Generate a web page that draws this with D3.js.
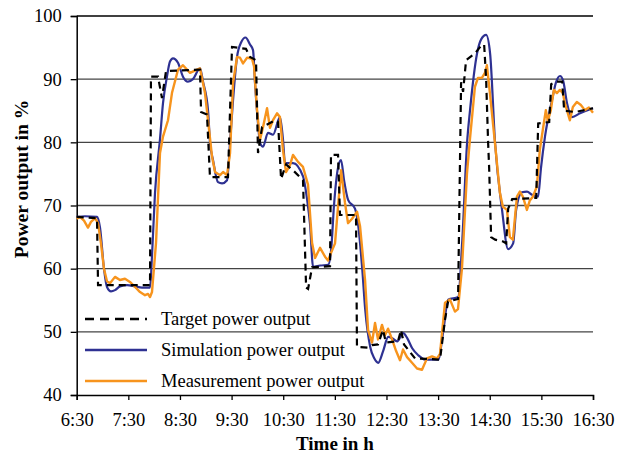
<!DOCTYPE html>
<html>
<head>
<meta charset="utf-8">
<script src="https://cdn.jsdelivr.net/npm/d3@7"></script>
<style>
  html, body { margin: 0; padding: 0; background: #fff; }
  svg text { font-family: "Liberation Serif", "Times New Roman", serif; fill: #000; }
</style>
</head>
<body>
<svg id="chart" width="627" height="455"></svg>
<script>
// Minutes elapsed since 6:30
const xTickLabels = ["6:30","7:30","8:30","9:30","10:30","11:30","12:30","13:30","14:30","15:30","16:30"];
const yTickValues = [40, 50, 60, 70, 80, 90, 100];
const seriesNames = ["Target power output", "Simulation power output", "Measurement power output"];

const targetTime = [0,23.6,24.8,85.2,86.3,94.5,99.1,103.8,143.3,144.5,151.4,154.9,175.8,180.5,196.7,201.4,208.4,210.7,215.4,230.5,234,237.5,243.3,252,263,266.6,268.9,273.5,294.4,295.5,303.7,306,324.6,325.7,338.5,343.2,350.1,355.9,359.4,373.4,376.9,380.4,387.4,393.2,422.2,428.1,431.6,443.2,446.7,449,452.5,463,470,473.5,475.8,478.1,479.3,481.6,486.3,495.6,499.1,501.4,506.1,534,536.3,549.1,551.4,557.2,564.2,566.5,579.3,600];
const targetValue = [68.2,68.0,57.4,57.4,90.4,90.4,87,91.3,91.5,84.8,84.4,74.5,74.5,95.1,94.8,93.5,93.0,78.3,82.4,83.5,83.2,74.2,76.5,75.5,74.0,57.0,56.8,60.2,60.4,78.0,78.0,68.5,68.5,47.6,47.5,47.9,48.0,50.3,48.3,48.5,50.3,48.0,46.8,45.8,45.6,52.0,54.8,55.2,89.5,88,93.0,94.1,95.3,95.5,90,80,76,65,64.6,64.3,64.0,69.5,71.0,71.2,83.0,83.2,89.2,89.6,89.6,85.0,84.8,85.4];

const simTime = [0,9.6,23.6,27.1,31.7,35.2,39.9,44.5,50.3,58.5,67.8,75.9,85.2,87.5,91,96.8,100.3,104.9,108.4,111.9,117.7,123.5,129.3,135.1,143.3,146.8,152.6,154.9,158.4,164.2,168.9,174.7,178.2,181.7,186.3,191,196.2,201.4,204.9,207.2,210.7,213,216.5,222.3,228.1,236.2,239.7,242.1,251.4,263,267.7,271.2,274.7,282.9,292.2,295.7,299,303.7,307.2,310.7,315.4,323.4,327,331.8,335.3,341.1,345.8,350.4,356.2,362,366.6,372.4,379.4,384.1,389.9,396.9,405,420.1,425.9,431.7,443.3,447.9,453.7,457.1,465.3,470,475.8,480.4,486.2,494.3,501.3,507.2,510.7,517.4,523.3,529.1,536.1,539.6,544.2,552.4,557,561.7,565.2,569.8,575.6,584.9,600];
const simValue = [68.2,68.3,68.2,66.5,60,57.1,56.4,56.6,57.2,57.4,57.2,57.0,57,62,72,80.5,86.2,90.4,92.8,93.3,92.6,90.4,89.6,90.0,91.7,89.6,85.1,80,77.2,73.7,73.5,74,80,86.7,93.5,95.8,96.6,95.5,94.6,89.4,83,79.9,79.3,81.5,81.2,84,80.5,76.7,76.7,74.6,71,67,60.3,60.5,60.6,63,70,76,77.2,74,70.9,69.5,67,60,53.5,47.6,45.8,45.1,47,49.2,49.0,48.5,49.8,49.0,47.4,46.3,45.6,45.6,50,55.1,55.5,64,80,85.1,94.1,96.3,97,94.1,79.9,69.3,63.1,64,69.3,72.1,72.2,71.7,71.4,76,80.9,86.7,89.5,90.5,89.8,86.2,84,84.6,85.4];

const measTime = [0,3.8,8.5,13.1,16.6,21.3,24.8,28.2,31.7,35.2,38.7,44.5,50.3,56.1,61.9,67.8,73.6,79.4,82.9,85.2,87.5,92.2,96.8,100.3,106.1,110.7,117.7,123.5,131.7,139.8,143.3,149.1,152.6,157.3,160.8,166.6,170.1,174.7,178.2,181.7,186.3,189.8,193.3,198,203.8,206.1,209.6,213,216.5,221.2,224.6,228.1,232.8,236.2,239.7,243.2,247.9,251.4,257.2,263,268.8,273.5,277,282.8,288.6,292.1,295.6,300.2,307.2,311.8,315.3,320,325.8,329.3,335.1,338.6,343.2,346.7,350.2,354.8,358.3,361.8,366.5,371.1,375.7,379.2,383.9,389.7,395.5,401.3,407.1,412.9,418.7,422.2,428,433.8,439.6,443.1,447.7,453.5,457,462.8,466.3,470.9,474.4,476.7,480.2,486,491.8,495.3,500,503.4,506.9,511.6,515,518.5,523.2,526.6,530.1,534.8,538.2,541.7,545.2,547.5,551,554.5,558,561.5,565,567.3,573.1,576.6,581.2,585.9,590.5,595.2,600];
const measValue = [67.9,68.2,67.6,66.5,67.4,68.0,67.2,64,60,58.0,57.7,58.7,58.2,58.4,57.9,57.1,56.3,55.8,56.0,55.5,56.3,64.1,78.3,80.9,83.5,87.8,91.5,92.2,91.0,91.5,91.7,87.8,83.5,77.7,75.3,74.8,75.3,74.8,78.3,89.4,93.5,93.4,92.5,93.4,93.2,92,85.1,80.4,82.4,85.4,82.3,83.5,84.6,84.0,78.8,75.3,76.4,78,76.9,76.1,73.3,64.1,61.7,63.3,61.9,61.3,62.5,64,75.6,70.4,67.2,67.9,69,66.7,58.2,50.3,48.3,51.4,48.8,51.1,49.5,50.5,48.8,47.0,45.5,47.2,46.0,45.1,44.2,44.0,45.8,46.1,45.8,46.5,54.6,55.1,53.2,53.6,60,75,80.5,88.8,90.2,90.2,91,92.2,87.8,80,72,69.8,69.3,65,64.6,71.4,72.2,71.4,69.3,70.8,71.4,73,78.8,82,85.1,83.4,85.1,88.3,87.8,88.3,87.8,86.2,83.5,85.6,86.4,85.9,85.1,85.5,84.7];

const colors = { target: "#000000", sim: "#2E3192", meas: "#F7941D" };

const svg = d3.select("#chart");
const margin = { left: 76.7, right: 627 - 593, top: 16, bottom: 455 - 395 };
const W = 627, H = 455;
const FS = 18.5;

const x = d3.scaleLinear().domain([0, 600]).range([margin.left, W - margin.right]);
const y = d3.scaleLinear().domain([40, 100]).range([H - margin.bottom, margin.top]);

// gridlines
svg.append("g").selectAll("line").data(yTickValues.filter(v => v > 40)).join("line")
  .attr("x1", x(0)).attr("x2", x(600))
  .attr("y1", d => y(d)).attr("y2", d => y(d))
  .attr("stroke", d => d === 100 ? "#000" : "#444").attr("stroke-width", 1.3);

// y axis
const yAxis = d3.axisLeft(y).tickValues(yTickValues).tickSize(6).tickPadding(9).tickFormat(d3.format("d"));
const gy = svg.append("g").attr("transform", `translate(${x(0)},0)`).call(yAxis);
gy.select(".domain").attr("stroke", "#000").attr("stroke-width", 1.5);
gy.selectAll(".tick line").attr("stroke", "#000").attr("stroke-width", 1.3);
gy.selectAll(".tick text").attr("font-size", FS).attr("font-family", "Liberation Serif, serif");

// x axis
const xAxis = d3.axisBottom(x).tickValues(d3.range(0, 601, 60)).tickSize(5).tickPadding(13)
  .tickFormat((d, i) => xTickLabels[i]);
const gx = svg.append("g").attr("transform", `translate(0,${y(40)})`).call(xAxis);
gx.select(".domain").attr("stroke", "#000").attr("stroke-width", 1.5);
gx.selectAll(".tick line").attr("stroke", "#000").attr("stroke-width", 1.3);
gx.selectAll(".tick text").attr("font-size", FS).attr("font-family", "Liberation Serif, serif");

// series
const mk = (ts, vs) => ts.map((t, i) => [t, vs[i]]);
const lineLin = d3.line().x(d => x(d[0])).y(d => y(d[1]));
const lineSmooth = d3.line().x(d => x(d[0])).y(d => y(d[1])).curve(d3.curveMonotoneX);

svg.append("path").datum(mk(simTime, simValue)).attr("d", lineSmooth)
  .attr("fill", "none").attr("stroke", colors.sim).attr("stroke-width", 2.2).attr("stroke-linejoin", "round");
svg.append("path").datum(mk(measTime, measValue)).attr("d", lineLin)
  .attr("fill", "none").attr("stroke", colors.meas).attr("stroke-width", 2.4).attr("stroke-linejoin", "round");
svg.append("path").datum(mk(targetTime, targetValue)).attr("d", lineLin)
  .attr("fill", "none").attr("stroke", colors.target).attr("stroke-width", 2.2).attr("stroke-dasharray", "7,5");

// legend
const legendItems = [
  { name: seriesNames[0], color: colors.target, dash: "9,6" },
  { name: seriesNames[1], color: colors.sim, dash: null },
  { name: seriesNames[2], color: colors.meas, dash: null }
];
const lg = svg.append("g");
legendItems.forEach((it, i) => {
  const yy = 319 + i * 31;
  lg.append("line").attr("x1", 85).attr("x2", 147).attr("y1", yy).attr("y2", yy)
    .attr("stroke", it.color).attr("stroke-width", 2.4).attr("stroke-dasharray", it.dash);
  lg.append("text").attr("x", 161).attr("y", yy + 6).attr("font-size", FS).text(it.name);
});

// axis titles
svg.append("text").attr("x", x(300)).attr("y", 450).attr("text-anchor", "middle")
  .attr("font-size", 19).attr("font-weight", "bold").text("Time in h");
svg.append("text").attr("transform", `translate(28,179) rotate(-90)`)
  .attr("text-anchor", "middle").attr("font-size", 19.5).attr("font-weight", "bold").text("Power output in %");
</script>
</body>
</html>
